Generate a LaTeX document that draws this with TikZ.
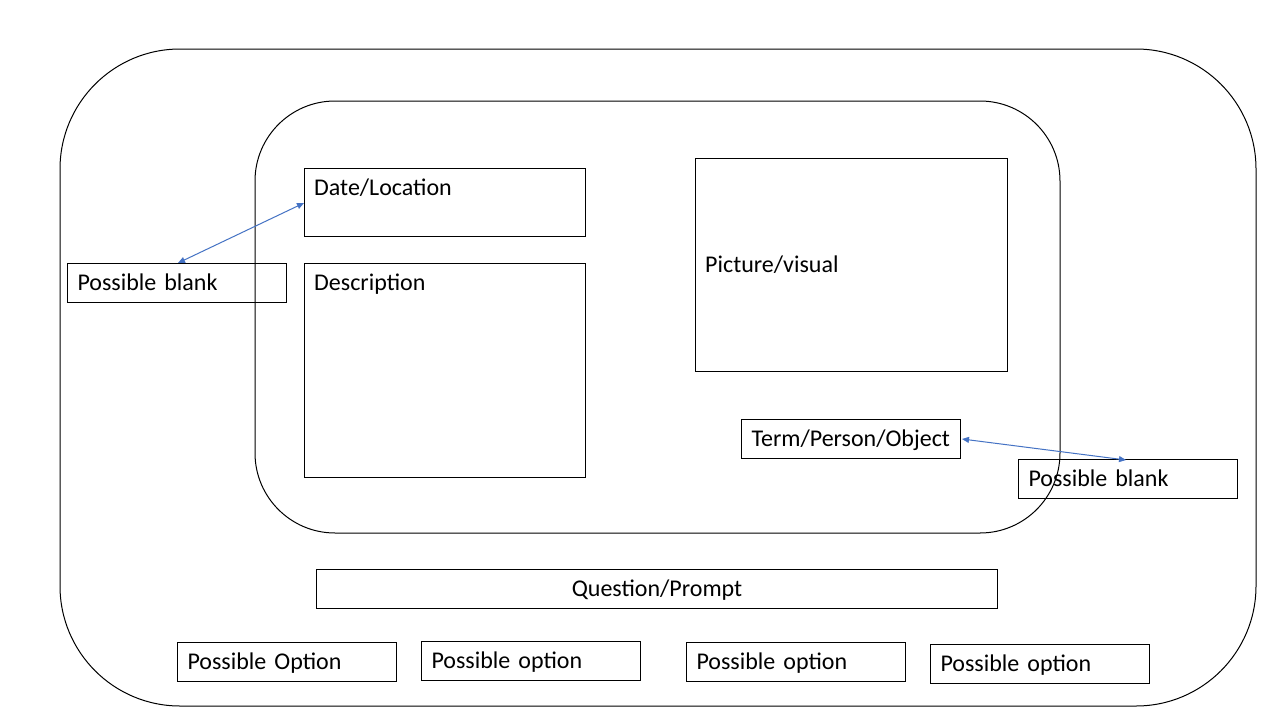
\documentclass[tikz,border=0pt]{standalone}
\usepackage{fontspec}
\setmainfont{Carlito}
\usetikzlibrary{arrows.meta,calc}
\begin{document}
\begin{tikzpicture}[x=1pt,y=-1pt,
  frame/.style={draw=black,line width=1pt},
  box/.style={draw=black,line width=1pt,rectangle,inner sep=0pt,anchor=north west},
  linebox/.style={box,minimum width=219pt,minimum height=39pt,inner xsep=10pt,text width=199pt,align=left,text height=18pt,text depth=3pt,font=\fontsize{24pt}{28pt}\selectfont},
  lbl/.style={font=\fontsize{24pt}{28pt}\selectfont,text height=18pt,text depth=3pt,inner xsep=10pt,inner ysep=9pt},
  link/.style={draw={rgb,255:red,68;green,114;blue,196},line width=1pt,{Triangle[length=7pt,width=6pt]}-{Triangle[length=7pt,width=6pt]}}
]
\useasboundingbox (0,0) rectangle (1280,720);
\fill[white] (0,0) rectangle (1280,720);
% outer and inner frames
\draw[frame,rounded corners=120pt] (60,49) rectangle (1256,706);
\draw[frame,rounded corners=80pt] (255,101) rectangle (1060,533);
% content boxes
\node[box,minimum width=281pt,minimum height=68pt,label={[lbl,anchor=north west]north west:Date/Location}] (date) at (304,168) {};
\node[box,minimum width=281pt,minimum height=214pt,label={[lbl,anchor=north west]north west:Description}] (desc) at (304,263) {};
\node[box,minimum width=312pt,minimum height=213pt,label={[lbl,anchor=west,inner ysep=0pt]west:Picture/visual}] (pic) at (695,158) {};
\node[linebox] (term) at (741,419) {Term/Person/Object};
\node[linebox] (pbl) at (67,263) {Possible blank};
\node[linebox] (pbr) at (1018,459) {Possible blank};
\node[linebox,minimum width=681pt,text width=661pt,align=center] (q) at (316,569) {Question/Prompt};
\node[linebox] (o1) at (177,642) {Possible Option};
\node[linebox] (o2) at (421,641) {Possible option};
\node[linebox] (o3) at (686,642) {Possible option};
\node[linebox] (o4) at (930,644) {Possible option};
% connectors
\draw[link] ($(pbl.north west)+(111,0)$) -- ($(date.north west)+(0,35)$);
\draw[link] ($(term.north east)+(1,20)$) -- ($(pbr.north west)+(108,1)$);
\end{tikzpicture}
\end{document}
